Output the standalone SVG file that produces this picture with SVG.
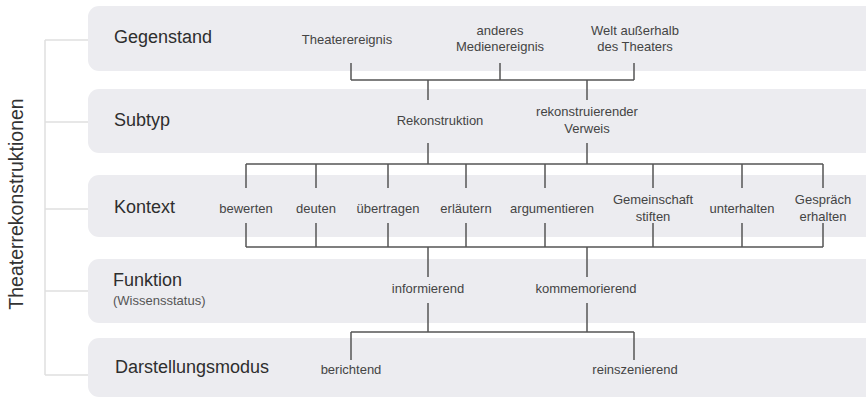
<svg xmlns="http://www.w3.org/2000/svg" width="866" height="400" viewBox="0 0 866 400">
<style>
.band{fill:#ececf0}
.lbl{font-family:"Liberation Sans",Arial,sans-serif;font-size:18px;fill:#2e2e2e}
.sub{font-family:"Liberation Sans",Arial,sans-serif;font-size:13px;fill:#555}
.it{font-family:"Liberation Sans",Arial,sans-serif;font-size:13px;fill:#444;text-anchor:middle}
.ttl{font-family:"Liberation Sans",Arial,sans-serif;font-size:19.5px;fill:#333;text-anchor:middle}
.br{stroke:#e0e0e0;stroke-width:1.5;fill:none}
.cn{stroke:#555;stroke-width:1.5;fill:none}
</style>
<rect width="866" height="400" fill="#fff"/>
<g id="bracket">
<path class="br" d="M45 40V375M45 40H88M45 122H88M45 209H88M45 291H88M45 375H88"/>
<text class="ttl" transform="translate(23 204) rotate(-90)">Theaterrekonstruktionen</text>
</g>
<g id="gegenstand">
<rect class="band" x="88" y="6" width="800" height="65" rx="11"/>
<text class="lbl" x="114" y="43">Gegenstand</text>
<text class="it" x="347" y="44">Theaterereignis</text>
<text class="it" x="500" y="35">anderes</text>
<text class="it" x="500" y="51">Medienereignis</text>
<text class="it" x="635" y="35">Welt außerhalb</text>
<text class="it" x="635" y="51">des Theaters</text>
</g>
<g id="subtyp">
<rect class="band" x="88" y="89" width="800" height="64" rx="11"/>
<text class="lbl" x="114" y="126">Subtyp</text>
<text class="it" x="440" y="125">Rekonstruktion</text>
<text class="it" x="587" y="116">rekonstruierender</text>
<text class="it" x="587" y="133">Verweis</text>
</g>
<g id="kontext">
<rect class="band" x="88" y="175" width="800" height="62" rx="11"/>
<text class="lbl" x="114" y="213">Kontext</text>
<text class="it" x="246" y="213">bewerten</text>
<text class="it" x="316" y="213">deuten</text>
<text class="it" x="388" y="213">übertragen</text>
<text class="it" x="466" y="213">erläutern</text>
<text class="it" x="552" y="213">argumentieren</text>
<text class="it" x="653" y="204">Gemeinschaft</text>
<text class="it" x="653" y="221">stiften</text>
<text class="it" x="742" y="213">unterhalten</text>
<text class="it" x="823" y="204">Gespräch</text>
<text class="it" x="823" y="221">erhalten</text>
</g>
<g id="funktion">
<rect class="band" x="88" y="259" width="800" height="64" rx="11"/>
<text class="lbl" x="113" y="286">Funktion</text>
<text class="sub" x="113" y="305">(Wissensstatus)</text>
<text class="it" x="428" y="293">informierend</text>
<text class="it" x="586" y="293">kommemorierend</text>
</g>
<g id="darstellungsmodus">
<rect class="band" x="88" y="338" width="800" height="59" rx="11"/>
<text class="lbl" x="115" y="373">Darstellungsmodus</text>
<text class="it" x="351" y="374">berichtend</text>
<text class="it" x="635" y="374">reinszenierend</text>
</g>
<g id="connectors">
<path class="cn" d="M351 63V80M500 63V80M634 63V80M351 80H634M428 80V100M587 80V100"/>
<path class="cn" d="M428 143V164M587 143V164M246 164H823"/>
<path class="cn" d="M246 164V188M316 164V188M388 164V188M466 164V188M545 164V188M653 164V188M742 164V188M823 164V188"/>
<path class="cn" d="M246 223V247M316 223V247M388 223V247M466 223V247M545 223V247M653 223V247M742 223V247M823 223V247M246 247H823"/>
<path class="cn" d="M428 247V277M587 247V277"/>
<path class="cn" d="M428 303V332M587 303V332M351 332H634M351 332V360M634 332V360"/>
</g>
</svg>
